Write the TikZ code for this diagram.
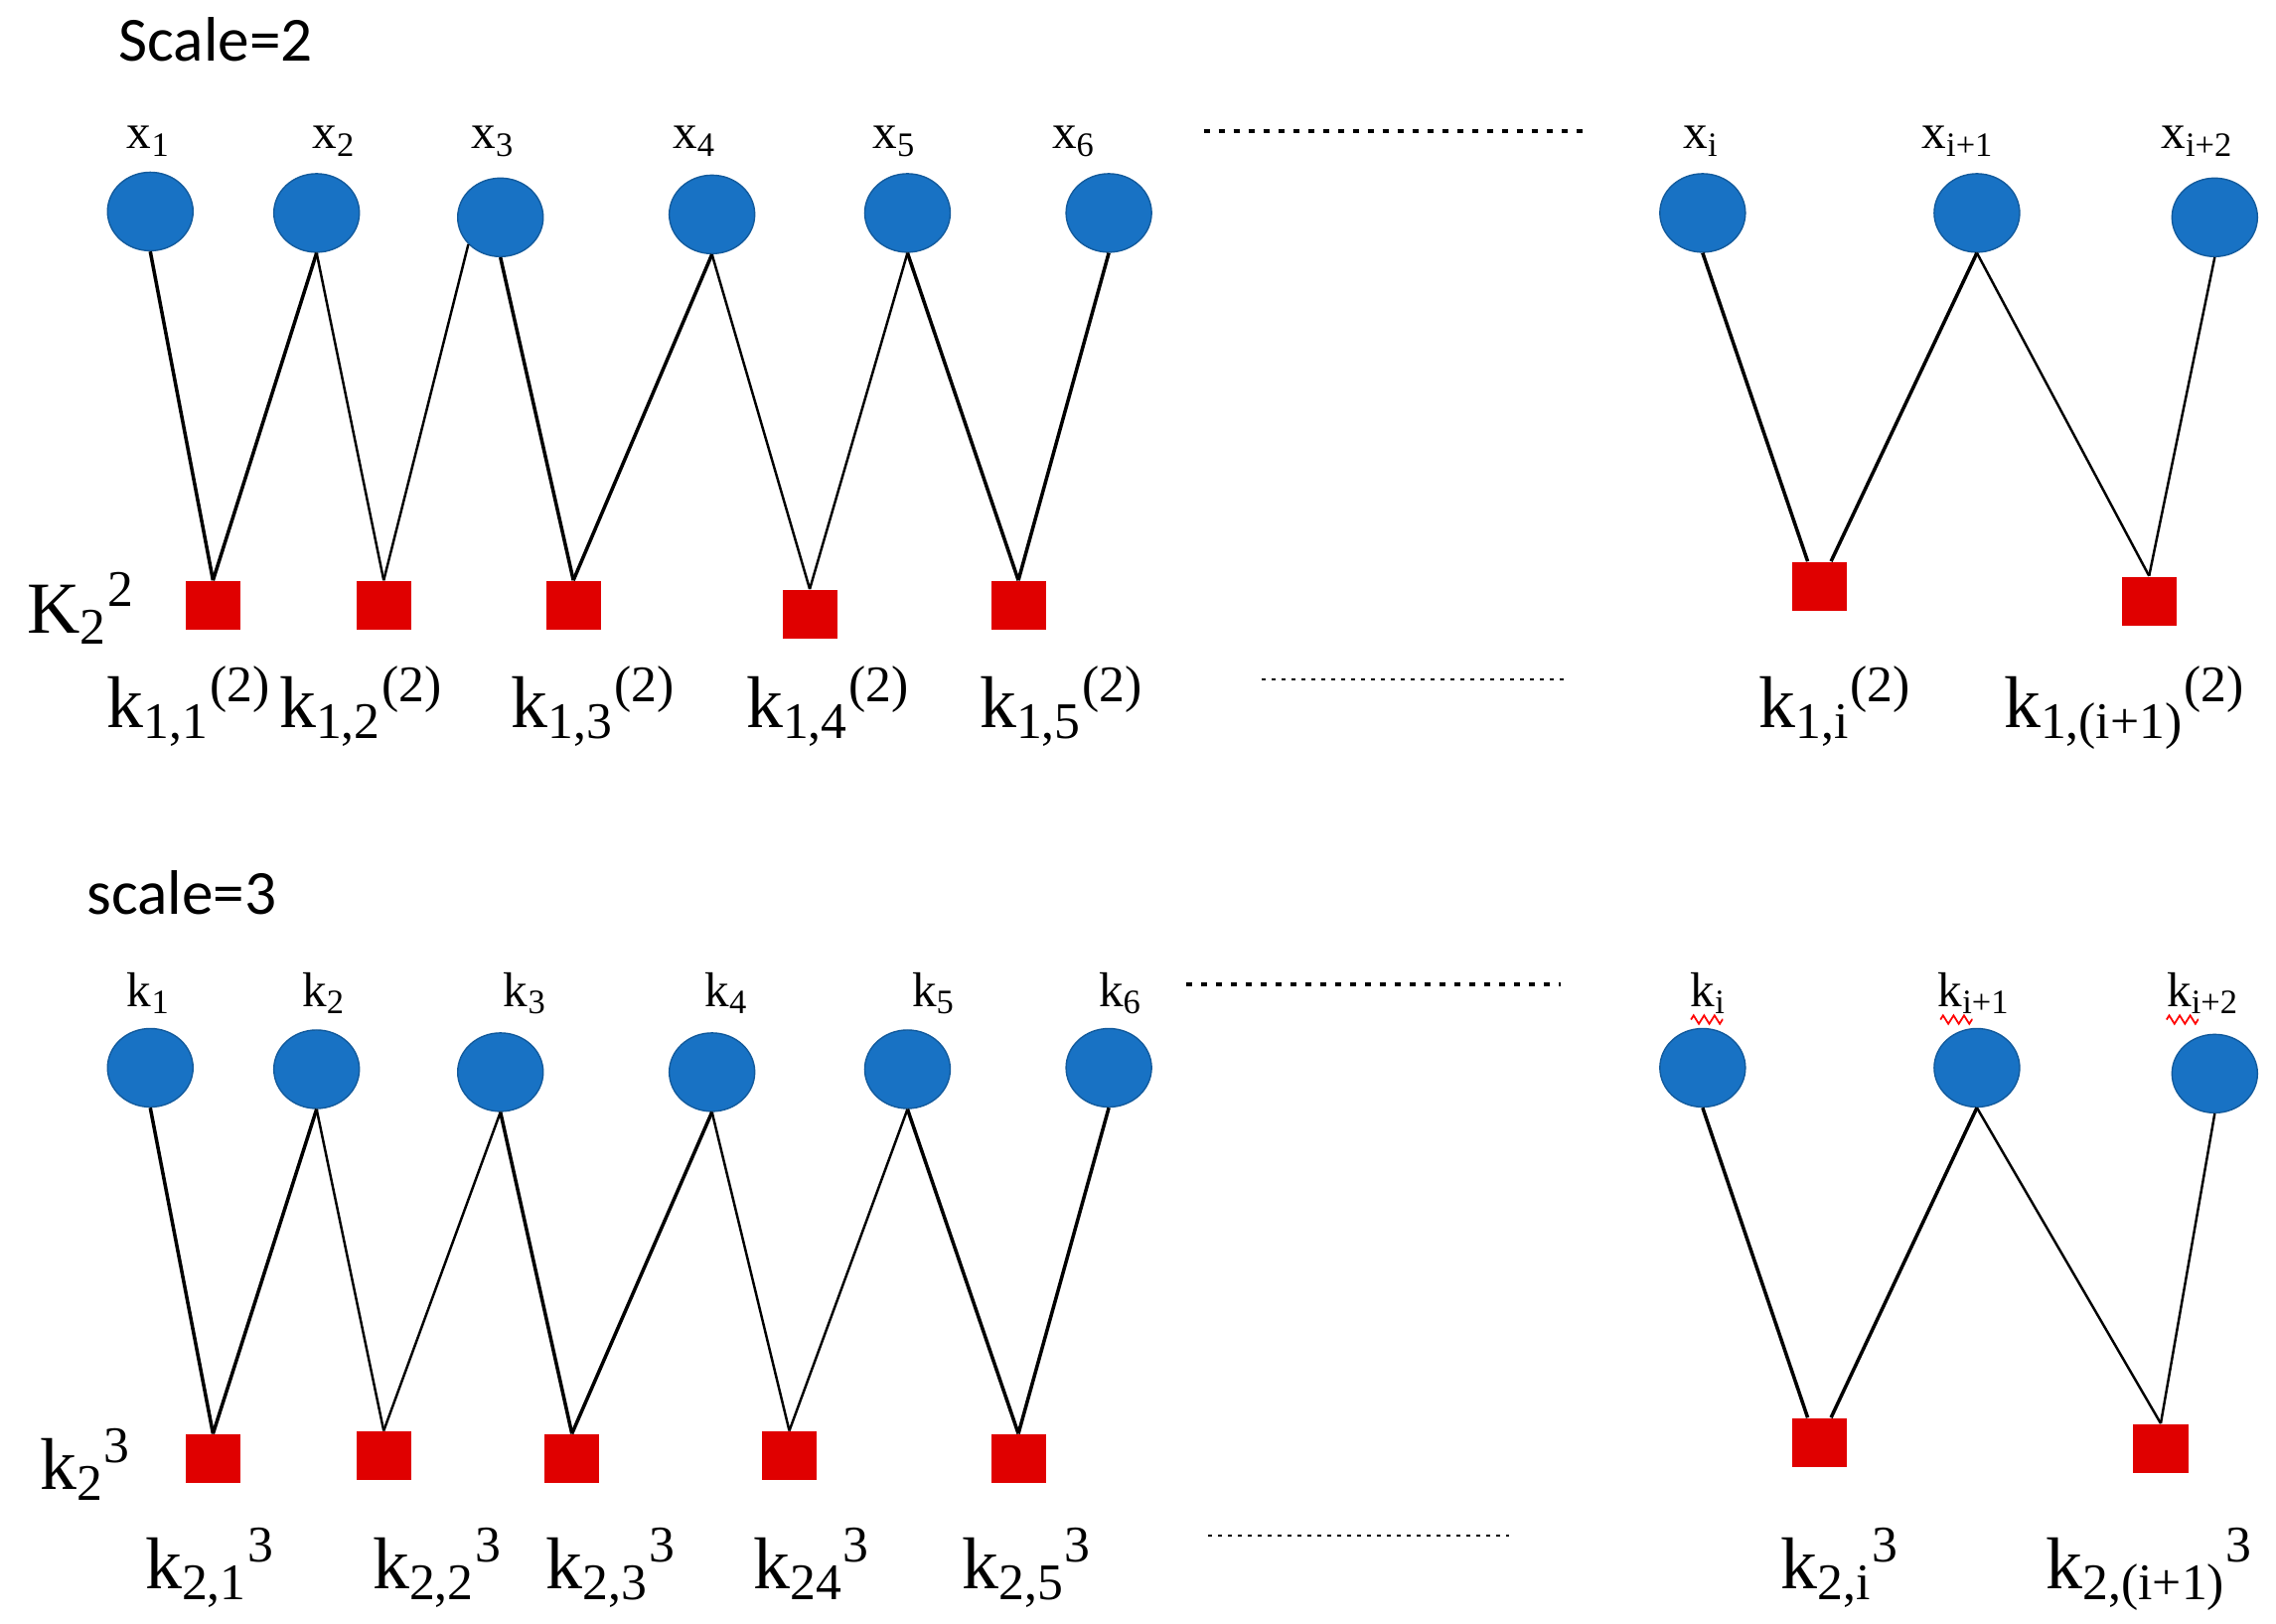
\documentclass[tikz,border=0pt]{standalone}
\usepackage{fontspec}
\setmainfont{Liberation Serif}
\newfontfamily\calibfont{Carlito}
\usepackage{tikz}
\usetikzlibrary{shapes.geometric,decorations.pathmorphing}
\definecolor{nodeblue}{HTML}{1872C4}
\definecolor{keyred}{HTML}{E00000}

\begin{document}
\begin{tikzpicture}[x=0.014686cm, y=-0.014686cm,
   var/.style={ellipse, fill=nodeblue, draw=nodeblue!80!black, line width=0.4pt, minimum width=0.86cm, minimum height=0.79cm, inner sep=0pt},
   key/.style={rectangle, fill=keyred, minimum width=0.55cm, minimum height=0.49cm, inner sep=0pt},
   title/.style={font=\calibfont\fontsize{18}{20}\selectfont, anchor=base west, inner sep=0pt},
   tlab/.style={font=\fontsize{14}{16}\selectfont, anchor=base, inner sep=0pt},
   blab/.style={font=\fontsize{21}{24}\selectfont, anchor=base west, inner sep=0pt},
   heavy/.style={line width=1pt},
   light/.style={line width=0.7pt},
   bigdots/.style={line width=1.2pt, dash pattern=on 0.06cm off 0.09cm},
   smalldots/.style={line width=0.6pt, dash pattern=on 0.04cm off 0.06cm},
   wave/.style={draw=red, line width=0.5pt, decorate, decoration={zigzag, segment length=3pt, amplitude=1.2pt}}]
      \useasboundingbox (0,0) rectangle (1560,1113.3);

      \node[name=scaletwo, title] at (81,42){Scale=2};
      \node[name=tx1, tlab] at (102,102){x\textsubscript{1}};
      \node[name=tx2, tlab] at (229,102){x\textsubscript{2}};
      \node[name=tx3, tlab] at (338,102){x\textsubscript{3}};
      \node[name=tx4, tlab] at (476,102){x\textsubscript{4}};
      \node[name=tx5, tlab] at (613,102){x\textsubscript{5}};
      \node[name=tx6, tlab] at (736,102){x\textsubscript{6}};
      \node[name=txi, tlab] at (1166,102){x\textsubscript{i}};
      \node[name=txip, tlab] at (1342,102){x\textsubscript{i+1}};
      \node[name=txipp, tlab] at (1506,102){x\textsubscript{i+2}};

      \node[name=x1, var] at (103,145){};
      \node[name=x2, var] at (217,146){};
      \node[name=x3, var] at (343,149){};
      \node[name=x4, var] at (488,147){};
      \node[name=x5, var] at (622,146){};
      \node[name=x6, var] at (760,146){};
      \node[name=xi, var] at (1167,146){};
      \node[name=xip, var] at (1355,146){};
      \node[name=xipp, var] at (1518,149){};

      \node[name=q11, key] at (146,415){};
      \node[name=q12, key] at (263,415){};
      \node[name=q13, key] at (393,415){};
      \node[name=q14, key] at (555,421){};
      \node[name=q15, key] at (698,415){};
      \node[name=q1i, key] at (1247,402){};
      \node[name=q1ip, key] at (1473,412){};

      \draw[heavy] (x1.south) -- (q11.north);
      \draw[heavy] (x2.south) -- (q11.north);
      \draw[light] (x2.south) -- (q12.north);
      \draw[light] (x3.220) -- (q12.north);
      \draw[heavy] (x3.south) -- (q13.north);
      \draw[heavy] (x4.south) -- (q13.north);
      \draw[light] (x4.south) -- (q14.north);
      \draw[light] (x5.south) -- (q14.north);
      \draw[heavy] (x5.south) -- (q15.north);
      \draw[heavy] (x6.south) -- (q15.north);
      \draw[heavy] (xi.south) -- (q1i.115);
      \draw[heavy] (xip.south) -- (q1i.65);
      \draw[light] (xip.south) -- (q1ip.north);
      \draw[light] (xipp.south) -- (q1ip.north);

      \draw[bigdots] (825,90) -- (1085,90);
      \draw[smalldots] (865,466) -- (1073,466);

      \node[name=bigk2, blab] at (18,434){K\textsubscript{2}\textsuperscript{2}};
      \node[name=l11, blab] at (73,499){k\textsubscript{1,1}\textsuperscript{(2)}};
      \node[name=l12, blab] at (191,499){k\textsubscript{1,2}\textsuperscript{(2)}};
      \node[name=l13, blab] at (350,499){k\textsubscript{1,3}\textsuperscript{(2)}};
      \node[name=l14, blab] at (511,499){k\textsubscript{1,4}\textsuperscript{(2)}};
      \node[name=l15, blab] at (671,499){k\textsubscript{1,5}\textsuperscript{(2)}};
      \node[name=l1i, blab] at (1205,499){k\textsubscript{1,i}\textsuperscript{(2)}};
      \node[name=l1ip, blab] at (1373,499){k\textsubscript{1,(i+1)}\textsuperscript{(2)}};

      \node[name=scalethree, title] at (59,627){scale=3};
      \node[name=tk1, tlab] at (102,690){k\textsubscript{1}};
      \node[name=tk2, tlab] at (222,690){k\textsubscript{2}};
      \node[name=tk3, tlab] at (360,690){k\textsubscript{3}};
      \node[name=tk4, tlab] at (498,690){k\textsubscript{4}};
      \node[name=tk5, tlab] at (640,690){k\textsubscript{5}};
      \node[name=tk6, tlab] at (768,690){k\textsubscript{6}};
      \node[name=tki, tlab] at (1171,690){k\textsubscript{i}};
      \node[name=tkip, tlab] at (1353,690){k\textsubscript{i+1}};
      \node[name=tkipp, tlab] at (1510,690){k\textsubscript{i+2}};
      \draw[wave] (1159,699) -- (1181,699);
      \draw[wave] (1330,699) -- (1352,699);
      \draw[wave] (1485,699) -- (1507,699);

      \node[name=k1, var] at (103,732){};
      \node[name=k2, var] at (217,733){};
      \node[name=k3, var] at (343,735){};
      \node[name=k4, var] at (488,735){};
      \node[name=k5, var] at (622,733){};
      \node[name=k6, var] at (760,732){};
      \node[name=ki, var] at (1167,732){};
      \node[name=kip, var] at (1355,732){};
      \node[name=kipp, var] at (1518,736){};

      \node[name=q21, key] at (146,1000){};
      \node[name=q22, key] at (263,998){};
      \node[name=q23, key] at (392,1000){};
      \node[name=q24, key] at (541,998){};
      \node[name=q25, key] at (698,1000){};
      \node[name=q2i, key] at (1247,989){};
      \node[name=q2ip, key] at (1481,993){};

      \draw[heavy] (k1.south) -- (q21.north);
      \draw[heavy] (k2.south) -- (q21.north);
      \draw[light] (k2.south) -- (q22.north);
      \draw[light] (k3.south) -- (q22.north);
      \draw[heavy] (k3.south) -- (q23.north);
      \draw[heavy] (k4.south) -- (q23.north);
      \draw[light] (k4.south) -- (q24.north);
      \draw[light] (k5.south) -- (q24.north);
      \draw[heavy] (k5.south) -- (q25.north);
      \draw[heavy] (k6.south) -- (q25.north);
      \draw[heavy] (ki.south) -- (q2i.115);
      \draw[heavy] (kip.south) -- (q2i.65);
      \draw[light] (kip.south) -- (q2ip.north);
      \draw[light] (kipp.south) -- (q2ip.north);

      \draw[bigdots] (813,675) -- (1070,675);
      \draw[smalldots] (828,1053) -- (1034,1053);

      \node[name=smallk2, blab] at (27,1021){k\textsubscript{2}\textsuperscript{3}};
      \node[name=l21, blab] at (99,1089){k\textsubscript{2,1}\textsuperscript{3}};
      \node[name=l22, blab] at (255,1089){k\textsubscript{2,2}\textsuperscript{3}};
      \node[name=l23, blab] at (374,1089){k\textsubscript{2,3}\textsuperscript{3}};
      \node[name=l24, blab] at (516,1089){k\textsubscript{24}\textsuperscript{3}};
      \node[name=l25, blab] at (659,1089){k\textsubscript{2,5}\textsuperscript{3}};
      \node[name=l2i, blab] at (1220,1089){k\textsubscript{2,i}\textsuperscript{3}};
      \node[name=l2ip, blab] at (1402,1089){k\textsubscript{2,(i+1)}\textsuperscript{3}};
   \end{tikzpicture}
\end{document}
